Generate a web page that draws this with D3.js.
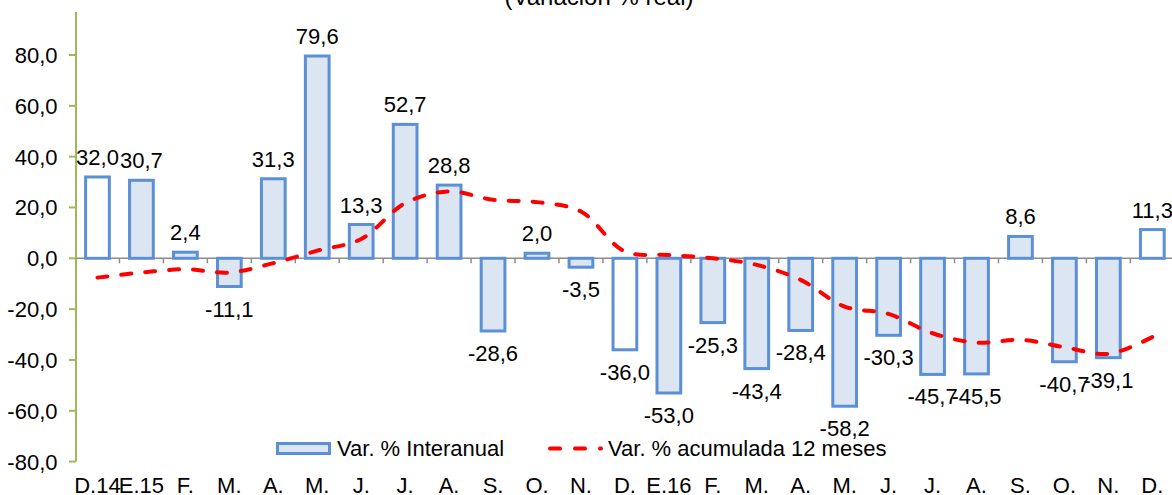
<!DOCTYPE html>
<html>
<head>
<meta charset="utf-8">
<script src="https://cdn.jsdelivr.net/npm/d3@7"></script>
<style>
  html, body { margin: 0; padding: 0; background: #fff; }
  svg { display: block; font-family: "Liberation Sans", Arial, sans-serif; }
</style>
</head>
<body>
<svg id="chart" width="1172" height="495"></svg>
<script>
// ── Data ──
const months = ['D.14', 'E.15', 'F.', 'M.', 'A.', 'M.', 'J.', 'J.', 'A.', 'S.', 'O.', 'N.',
                'D.', 'E.16', 'F.', 'M.', 'A.', 'M.', 'J.', 'J.', 'A.', 'S.', 'O.', 'N.', 'D.'];
const interanual = [32.0, 30.7, 2.4, -11.1, 31.3, 79.6, 13.3, 52.7, 28.8, -28.6, 2.0, -3.5,
                    -36.0, -53.0, -25.3, -43.4, -28.4, -58.2, -30.3, -45.7, -45.5, 8.6, -40.7, -39.1, 11.3];
const acumulada = [-7.6, -5.6, -4.3, -5.6, -1.9, 3.0, 7.6, 21.7, 26.3, 23.0, 22.1, 18.4,
                   2.7, 1.3, 0.0, -2.6, -8.5, -19.0, -21.9, -29.5, -33.2, -32.1, -35.0, -37.6, -31.0];
const yTicks = [-80, -60, -40, -20, 0, 20, 40, 60, 80];
const seriesNames = ['Var. % Interanual', 'Var. % acumulada 12 meses'];
const title = '(Variación % real)';

const BAR_FILL = '#dce6f2', BAR_STROKE = '#5b8fd6', LINE_RED = '#ff0000';
const fmt = v => d3.format('.1f')(v).replace('.', ',').replace('\u2212', '-');
const FONT = 22;

const svg = d3.select('#chart');
const keys = months.map((m, i) => i);

const x = d3.scaleBand().domain(keys).range([75.5, 1174.3]).paddingInner(0.46).paddingOuter(0.23);
const y = d3.scaleLinear().domain([-80, 80]).range([461.6, 55]);
const cx = i => x(i) + x.bandwidth() / 2;

// ── Title (cut off at top) ──
svg.append('text').attr('x', 599).attr('y', 5).attr('text-anchor', 'middle')
  .attr('font-size', 24).attr('fill', '#000').text(title);

// ── Y axis ──
svg.append('line').attr('x1', 76).attr('x2', 76).attr('y1', 12).attr('y2', y(-80))
  .attr('stroke', '#9bbb59').attr('stroke-width', 2);
const yAxis = svg.append('g');
yTicks.forEach(t => {
  yAxis.append('line').attr('x1', 69).attr('x2', 76).attr('y1', y(t)).attr('y2', y(t))
    .attr('stroke', '#9bbb59').attr('stroke-width', 2);
  yAxis.append('text').attr('x', 57.5).attr('y', y(t)).attr('dy', '0.36em')
    .attr('text-anchor', 'end').attr('font-size', FONT).attr('fill', '#000').text(fmt(t));
});

// ── Zero line with category ticks ──
svg.append('line').attr('x1', 76).attr('x2', 1172).attr('y1', y(0)).attr('y2', y(0))
  .attr('stroke', '#8c8c8c').attr('stroke-width', 1.5);
keys.forEach(i => {
  const bx = x(i) - x.step() * x.paddingInner() / 2 + x.step();
  svg.append('line').attr('x1', bx).attr('x2', bx).attr('y1', y(0)).attr('y2', y(0) + 5)
    .attr('stroke', '#8c8c8c').attr('stroke-width', 1.5);
});

// ── Bars ──
svg.append('g').selectAll('rect').data(interanual).join('rect')
  .attr('x', (d, i) => x(i)).attr('width', x.bandwidth())
  .attr('y', d => y(Math.max(0, d))).attr('height', d => Math.abs(y(d) - y(0)))
  .attr('fill', (d, i) => months[i].startsWith('D.') ? '#fff' : BAR_FILL)
  .attr('stroke', BAR_STROKE).attr('stroke-width', 3);

// ── Line ──
const line = d3.line().x((d, i) => cx(i)).y(d => y(d)).curve(d3.curveCatmullRom.alpha(0.5));
svg.append('path').datum(acumulada).attr('d', line)
  .attr('fill', 'none').attr('stroke', LINE_RED).attr('stroke-width', 4)
  .attr('stroke-dasharray', '10,14').attr('stroke-linecap', 'round');

// ── Data labels ──
svg.append('g').selectAll('text').data(interanual).join('text')
  .attr('x', (d, i) => cx(i))
  .attr('y', d => d >= 0 ? y(d) - 12 : y(d) + 30)
  .attr('text-anchor', 'middle').attr('font-size', FONT).attr('fill', '#000')
  .text(d => fmt(d));

// ── X labels ──
svg.append('g').selectAll('text').data(months).join('text')
  .attr('x', (d, i) => cx(i)).attr('y', 493)
  .attr('text-anchor', 'middle').attr('font-size', FONT).attr('fill', '#000')
  .text(d => d);

// ── Legend ──
const lg = svg.append('g');
lg.append('rect').attr('x', 277.5).attr('y', 443.5).attr('width', 52).attr('height', 10)
  .attr('fill', BAR_FILL).attr('stroke', BAR_STROKE).attr('stroke-width', 3);
lg.append('text').attr('x', 337).attr('y', 448.5).attr('dy', '0.36em')
  .attr('font-size', FONT).attr('fill', '#000').text(seriesNames[0]);
lg.append('line').attr('x1', 550).attr('x2', 601).attr('y1', 448.5).attr('y2', 448.5)
  .attr('stroke', LINE_RED).attr('stroke-width', 4)
  .attr('stroke-dasharray', '10,15').attr('stroke-linecap', 'round');
lg.append('text').attr('x', 608).attr('y', 448.5).attr('dy', '0.36em')
  .attr('font-size', FONT).attr('fill', '#000').text(seriesNames[1]);
</script>
</body>
</html>
